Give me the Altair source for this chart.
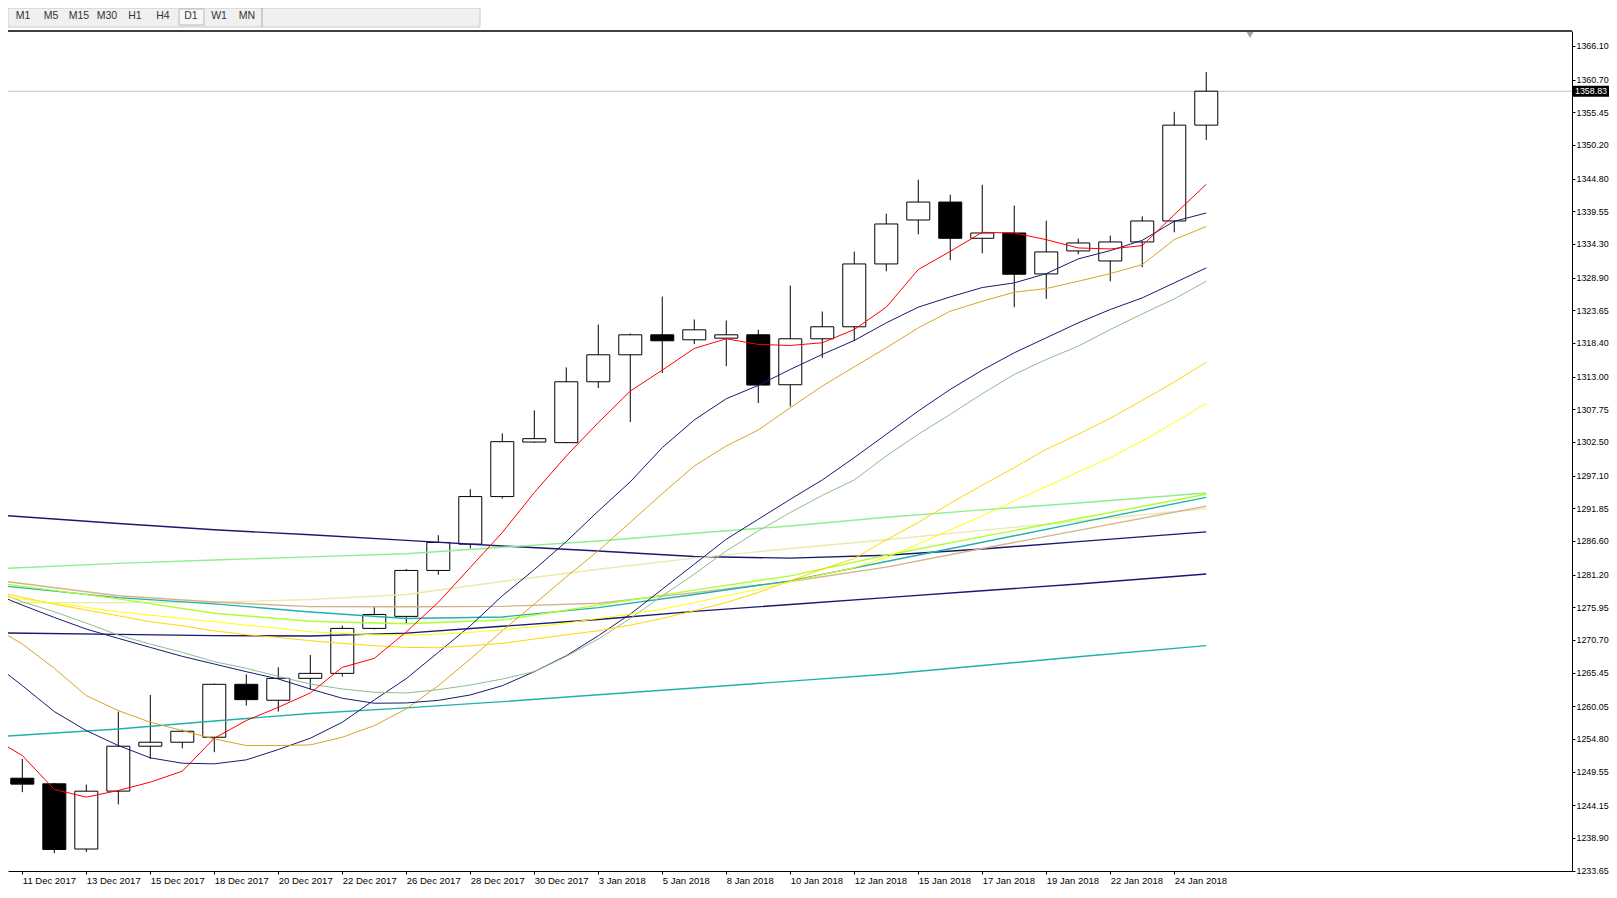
import json
import altair as alt
import pandas as pd

# ---------------- data ----------------
BARS = list(range(0, 38))
OPEN = [1248.50, 1247.60, 1237.13, 1246.43, 1253.64, 1254.28, 1255.08, 1263.58, 1261.02, 1264.54,
        1265.34, 1272.56, 1274.49, 1281.87, 1286.09, 1293.73, 1302.49, 1302.39, 1312.17, 1316.50,
        1319.71, 1318.91, 1319.17, 1319.71, 1311.69, 1319.07, 1321.00, 1331.09, 1338.15, 1341.03,
        1335.21, 1336.06, 1329.49, 1333.18, 1331.57, 1334.62, 1337.99, 1353.38]
HIGH = [1251.60, 1247.76, 1247.48, 1259.20, 1261.87, 1256.30, 1263.70, 1265.18, 1266.31, 1268.28,
        1272.99, 1276.09, 1282.08, 1287.53, 1294.91, 1303.89, 1307.58, 1314.47, 1321.36, 1319.92,
        1325.85, 1322.17, 1322.01, 1320.51, 1327.62, 1323.45, 1333.07, 1339.16, 1344.62, 1342.21,
        1343.81, 1340.45, 1338.04, 1335.16, 1335.64, 1338.74, 1355.52, 1361.90]
LOW = [1246.26, 1236.48, 1236.64, 1244.30, 1251.60, 1253.30, 1252.68, 1260.16, 1259.20, 1262.73,
       1264.81, 1272.40, 1273.36, 1281.17, 1285.39, 1293.41, 1302.34, 1302.30, 1311.16, 1305.71,
       1313.56, 1318.21, 1314.68, 1308.75, 1308.22, 1316.00, 1318.69, 1329.92, 1335.85, 1331.68,
       1332.80, 1324.14, 1325.48, 1332.64, 1328.31, 1330.56, 1336.17, 1351.00]
CLOSE = [1247.55, 1237.06, 1246.42, 1253.64, 1254.28, 1256.04, 1263.58, 1261.12, 1264.54, 1265.34,
         1272.56, 1274.80, 1281.87, 1286.36, 1293.73, 1302.55, 1303.03, 1312.17, 1316.50, 1319.71,
         1318.75, 1320.51, 1319.71, 1311.64, 1319.07, 1321.00, 1331.09, 1337.51, 1341.03, 1335.21,
         1336.06, 1329.44, 1333.02, 1334.46, 1334.62, 1337.99, 1353.38, 1358.83]

MA_BARS = list(range(-1, 38))
MA_RED = [1255.2, 1252.14, 1246.7, 1245.46, 1246.53, 1247.87, 1249.63, 1254.92, 1257.76, 1259.89,
          1262.19, 1266.3, 1267.75, 1272.0, 1276.74, 1282.35, 1287.96, 1294.37, 1300.25, 1305.6,
          1310.67, 1314.04, 1317.52, 1319.07, 1318.16, 1318.0, 1318.43, 1320.56, 1324.15, 1330.19,
          1333.12, 1336.17, 1336.06, 1334.99, 1333.66, 1333.5, 1334.03, 1339.0, 1343.89]
MA_NAVY_FAST = [1267.4, 1263.37, 1259.2, 1256.15, 1253.75, 1251.77, 1250.91, 1250.81, 1251.45, 1253.1,
                1254.92, 1257.49, 1261.07, 1264.5, 1268.71, 1272.98, 1277.79, 1282.0, 1286.5, 1291.4,
                1296.1, 1301.59, 1306.03, 1309.45, 1311.58, 1314.15, 1316.56, 1318.8, 1321.63, 1324.15,
                1325.8, 1327.3, 1328.05, 1329.54, 1331.9, 1333.23, 1334.89, 1337.94, 1339.27]
MA_GOLDENROD = [1273.1, 1270.05, 1266.15, 1261.76, 1259.36, 1257.49, 1256.15, 1254.81, 1253.75, 1253.75,
                1253.85, 1255.08, 1256.95, 1259.63, 1263.36, 1267.64, 1272.18, 1276.46, 1280.84, 1285.01,
                1289.6, 1294.2, 1298.65, 1301.86, 1304.42, 1308.0, 1311.48, 1314.58, 1317.62, 1320.83,
                1323.5, 1325.1, 1326.55, 1327.14, 1328.31, 1329.54, 1330.98, 1335.0, 1337.1]
MA_NAVY_MID = [1278.4, 1276.3, 1274.32, 1272.45, 1270.96, 1269.51, 1268.07, 1266.84, 1265.61, 1264.44,
               1262.83, 1261.34, 1260.54, 1260.59, 1261.0, 1261.87, 1263.36, 1265.61, 1268.17, 1271.38,
               1274.85, 1278.86, 1282.87, 1286.88, 1290.09, 1293.29, 1296.4, 1299.99, 1303.73, 1307.47,
               1310.94, 1314.04, 1316.82, 1319.23, 1321.63, 1323.77, 1325.64, 1328.05, 1330.45]
MA_SEAGREEN = [1278.9, 1276.83, 1275.23, 1273.41, 1271.49, 1270.04, 1268.71, 1267.22, 1266.15, 1264.86,
               1263.63, 1262.83, 1262.3, 1262.19, 1262.72, 1263.47, 1264.43, 1265.61, 1268.07, 1270.85,
               1274.16, 1277.79, 1281.27, 1285.01, 1288.22, 1291.16, 1293.93, 1296.4, 1300.25, 1303.73,
               1306.93, 1310.25, 1313.35, 1315.75, 1317.89, 1320.56, 1323.07, 1325.48, 1328.31]
MA_GOLD = [1278.7, 1277.53, 1276.46, 1275.5, 1274.59, 1273.63, 1272.98, 1272.18, 1271.54, 1271.11,
           1270.58, 1270.15, 1269.78, 1269.51, 1269.45, 1269.78, 1270.15, 1270.85, 1271.54, 1272.18,
           1273.09, 1274.16, 1275.39, 1276.72, 1278.33, 1280.2, 1282.07, 1283.8, 1286.78, 1289.56,
           1292.66, 1295.55, 1298.38, 1301.32, 1303.73, 1306.29, 1309.18, 1312.12, 1315.32]
MA_YELLOW = [1278.0, 1277.26, 1276.62, 1275.92, 1275.23, 1274.69, 1274.16, 1273.63, 1273.09, 1272.56,
             1272.02, 1271.75, 1271.54, 1271.49, 1271.65, 1271.91, 1272.34, 1272.82, 1273.41, 1274.16,
             1274.85, 1275.66, 1276.72, 1277.79, 1278.86, 1280.04, 1281.2, 1282.3, 1283.95, 1286.09,
             1288.39, 1290.63, 1293.04, 1295.33, 1297.69, 1299.99, 1302.66, 1305.6, 1308.7]

SLOW_BARS = [-1, 3, 6, 9, 12, 15, 18, 21, 24, 27, 30, 33, 37]
MA_NAVY_TOP = [1290.85, 1289.4, 1288.4, 1287.6, 1286.7, 1285.8, 1285.0, 1284.1, 1283.85, 1284.3, 1285.3, 1286.5, 1288.07]
MA_LIGHTGREEN = [1282.1, 1283.0, 1283.55, 1284.05, 1284.55, 1285.6, 1286.6, 1287.85, 1289.0, 1290.4, 1291.6, 1292.7, 1294.3]
MA_PALEGOLD = [1276.7, 1276.7, 1276.75, 1277.2, 1278.0, 1280.1, 1282.05, 1283.85, 1285.4, 1286.8, 1288.3, 1289.8, 1291.8]
MA_TAN = [1280.4, 1277.8, 1276.8, 1276.05, 1276.03, 1276.1, 1276.6, 1278.3, 1280.1, 1282.4, 1285.4, 1288.3, 1292.2]
MA_LIGHTSEAGREEN = [1279.6, 1277.5, 1276.5, 1275.2, 1274.15, 1274.4, 1275.9, 1278.0, 1280.2, 1283.3, 1286.4, 1289.5, 1293.6]
MA_GREENYELLOW = [1280.0, 1277.3, 1275.0, 1273.7, 1273.3, 1273.9, 1276.3, 1278.7, 1281.0, 1284.3, 1287.3, 1290.2, 1294.1]
MA_NAVY_SLOW = [1271.85, 1271.6, 1271.4, 1271.35, 1271.8, 1272.9, 1274.0, 1275.3, 1276.4, 1277.5, 1278.6, 1279.7, 1281.3]
MA_TEAL_LOW = [1255.1, 1256.4, 1257.7, 1258.9, 1259.8, 1260.8, 1261.9, 1263.0, 1264.1, 1265.2, 1266.6, 1268.0, 1269.8]

TICK_BARS = list(range(0, 37, 2))
X_LABELS = ["11 Dec 2017", "13 Dec 2017", "15 Dec 2017", "18 Dec 2017", "20 Dec 2017",
            "22 Dec 2017", "26 Dec 2017", "28 Dec 2017", "30 Dec 2017", "3 Jan 2018",
            "5 Jan 2018", "8 Jan 2018", "10 Jan 2018", "12 Jan 2018", "15 Jan 2018",
            "17 Jan 2018", "19 Jan 2018", "22 Jan 2018", "24 Jan 2018"]
Y_TICKS = [1366.10, 1360.70, 1355.45, 1350.20, 1344.80, 1339.55, 1334.30, 1328.90, 1323.65,
           1318.40, 1313.00, 1307.75, 1302.50, 1297.10, 1291.85, 1286.60, 1281.20, 1275.95,
           1270.70, 1265.45, 1260.05, 1254.80, 1249.55, 1244.15, 1238.90, 1233.65]
LAST_PRICE = 1358.83
TOOLBAR = ["M1", "M5", "M15", "M30", "H1", "H4", "D1", "W1", "MN"]

# ---------------- tables ----------------
candles = pd.DataFrame({"bar": BARS, "open": OPEN, "high": HIGH, "low": LOW, "close": CLOSE})
candles["dir"] = ["up" if c >= o else "down" for o, c in zip(OPEN, CLOSE)]

fast = {"navy_fast": MA_NAVY_FAST, "goldenrod": MA_GOLDENROD, "navy_mid": MA_NAVY_MID,
        "seagreen": MA_SEAGREEN, "gold": MA_GOLD, "yellow": MA_YELLOW}
slow = {"navy_top": MA_NAVY_TOP, "lightgreen": MA_LIGHTGREEN, "palegold": MA_PALEGOLD,
        "tan": MA_TAN, "lightseagreen": MA_LIGHTSEAGREEN, "greenyellow": MA_GREENYELLOW,
        "navy_slow": MA_NAVY_SLOW, "teal_low": MA_TEAL_LOW}
fast_df = pd.DataFrame([{"name": k, "bar": b, "v": v} for k, vals in fast.items() for b, v in zip(MA_BARS, vals)])
slow_df = pd.DataFrame([{"name": k, "bar": b, "v": v} for k, vals in slow.items() for b, v in zip(SLOW_BARS, vals)])
red_df = pd.DataFrame({"name": "red", "bar": MA_BARS, "v": MA_RED})

NAMES = ["navy_fast", "goldenrod", "navy_mid", "seagreen", "gold", "yellow",
         "navy_top", "lightgreen", "palegold", "tan", "lightseagreen", "greenyellow",
         "navy_slow", "teal_low", "red"]
COLORS = ["#191970", "#DAA520", "#191970", "#8FBC8F", "#FFD700", "#FFFF00",
          "#191970", "#90EE90", "#EEE8AA", "#D2B48C", "#20B2AA", "#ADFF2F",
          "#191970", "#20B2AA", "#FF0000"]
cscale = alt.Scale(domain=NAMES, range=COLORS)

W, H = 1564, 840
FONT = "Liberation Sans"
xs = alt.Scale(domain=[-0.447, 48.43], nice=False, zero=False, padding=0)
ys = alt.Scale(domain=[1233.6, 1368.5], nice=False, zero=False, padding=0)

xaxis = alt.Axis(values=TICK_BARS, labelExpr=json.dumps(X_LABELS) + "[round(datum.value / 2)]",
                 orient="bottom", tickSize=3, labelAlign="left", labelPadding=1, labelFont=FONT,
                 labelFontSize=9.5, labelColor="black", domainColor="black", tickColor="black",
                 grid=False, title=None, labelOverlap=False, labelFlush=False)
yaxis = alt.Axis(orient="right", values=Y_TICKS, format=".2f", tickSize=3, labelPadding=1,
                 labelFont=FONT, labelFontSize=8.9, labelColor="black", domainColor="black",
                 tickColor="black", grid=False, title=None, labelOverlap=False, labelFlush=False)


def X():
    return alt.X("bar:Q", scale=xs, axis=xaxis)


def Y(field):
    return alt.Y(field, scale=ys, axis=yaxis)


price_line = alt.Chart(pd.DataFrame({"p": [LAST_PRICE]})).mark_rule(color="#C0C0C0", strokeWidth=1).encode(
    y=Y("p:Q"))

wicks = alt.Chart(candles).mark_rule(color="black", strokeWidth=1).encode(
    x=X(), y=Y("low:Q"), y2="high:Q")

bodies = alt.Chart(candles).mark_bar(size=23, stroke="black", strokeWidth=1).encode(
    x=X(), y=Y("open:Q"), y2="close:Q",
    fill=alt.Fill("dir:N", scale=alt.Scale(domain=["up", "down"], range=["white", "black"]), legend=None))

slow_lines = alt.Chart(slow_df).mark_line(strokeWidth=1.4, clip=True).encode(
    x=X(), y=Y("v:Q"), detail="name:N",
    color=alt.Color("name:N", scale=cscale, legend=None))

fast_lines = alt.Chart(fast_df).mark_line(strokeWidth=1, clip=True).encode(
    x=X(), y=Y("v:Q"), detail="name:N",
    color=alt.Color("name:N", scale=cscale, legend=None))

red_line = alt.Chart(red_df).mark_line(strokeWidth=1, clip=True).encode(
    x=X(), y=Y("v:Q"),
    color=alt.Color("name:N", scale=cscale, legend=None))

deco = alt.Chart(pd.DataFrame({"p": [LAST_PRICE]}))

top_border = deco.mark_rule(color="black", strokeWidth=1.5).encode(
    x=alt.value(0), x2=alt.value(W), y=alt.value(0))

tag_box = deco.mark_rule(color="black", strokeWidth=11).encode(
    x=alt.value(W + 1), x2=alt.value(W + 37), y=Y("p:Q"))
tag_text = deco.mark_text(color="white", font=FONT, fontSize=8.9, align="center", baseline="middle").encode(
    x=alt.value(W + 19), y=Y("p:Q"), text=alt.Text("p:Q", format=".2f"))

shift_mark = deco.mark_point(shape="triangle-down", filled=True, color="#A0A0A0", size=45, opacity=1).encode(
    x=alt.value(1242), y=alt.value(4))

toolbar_bg = deco.mark_rect(fill="#F0F0F0", stroke="#C8C8C8", strokeWidth=1).encode(
    x=alt.value(0), x2=alt.value(472), y=alt.value(-23), y2=alt.value(-4))
toolbar_btn = deco.mark_rect(fill="#F7F7F7", stroke="#B8B8B8", strokeWidth=1).encode(
    x=alt.value(171), x2=alt.value(196), y=alt.value(-22), y2=alt.value(-6))
toolbar_sep = deco.mark_rule(color="#A8A8A8", strokeWidth=1).encode(
    x=alt.value(254), y=alt.value(-23), y2=alt.value(-4))
toolbar_text = [
    deco.mark_text(font=FONT, fontSize=10.5, color="#333333", align="center", baseline="middle").encode(
        x=alt.value(15 + 28 * k), y=alt.value(-15), text=alt.value(lbl))
    for k, lbl in enumerate(TOOLBAR)
]

chart = alt.layer(
    price_line, wicks, bodies, slow_lines, fast_lines, red_line,
    top_border, tag_box, tag_text, shift_mark,
    toolbar_bg, toolbar_btn, toolbar_sep, *toolbar_text,
).properties(
    width=W, height=H,
    autosize=alt.AutoSizeParams(type="none"),
    padding={"left": 0, "top": 23, "right": 37, "bottom": 15},
    background="white",
).configure_view(stroke=None)

chart.save("out.html", embed_options={"renderer": "svg", "actions": False})
